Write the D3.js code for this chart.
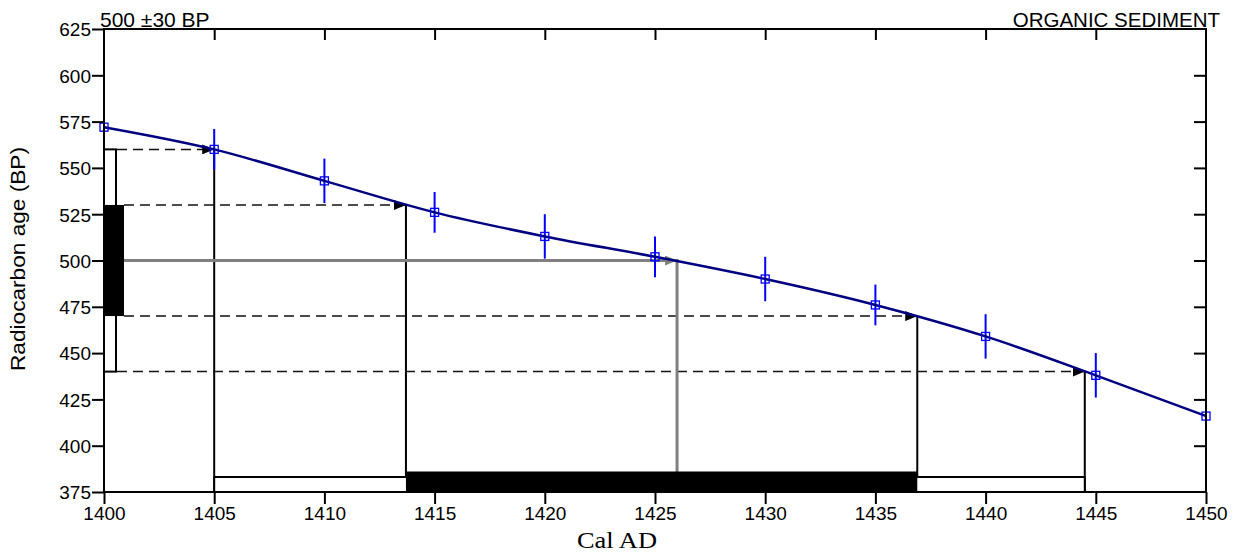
<!DOCTYPE html>
<html><head><meta charset="utf-8">
<script src="https://cdn.jsdelivr.net/npm/d3@7/dist/d3.min.js"></script>
<style>body{margin:0;background:#fff}svg{display:block}</style>
</head><body><svg id="c" width="1241" height="557"></svg>
<script>
// ---- data ----
const years = [1400,1405,1410,1415,1420,1425,1430,1435,1440,1445,1450];
const ages  = [572,560,543,526,513,502,490,476,459,438,416];
const errs  = [11,11,12,11,12,11,12,11,12,12,0];
const xTicks = [1400,1405,1410,1415,1420,1425,1430,1435,1440,1445,1450];
const yTicks = [375,400,425,450,475,500,525,550,575,600,625];
const measured = 500, sigma = 30;
const oneSigmaAges = [470,530];
const twoSigmaAges = [440,560];
const oneSigmaCal = [1413.7,1436.9];
const twoSigmaCal = [1405,1444.5];
const interceptCal = 1426;
const titleLeft = "500 ±30 BP", titleRight = "ORGANIC SEDIMENT";

const svg = d3.select("#c");
const L=104,R=1206,T=29,B=492;
const x = d3.scaleLinear().domain([1400,1450]).range([L,R]);
const y = d3.scaleLinear().domain([375,625]).range([B,T]);
const sans = "Liberation Sans, Arial, sans-serif";

const defs = svg.append("defs");
function marker(id,color){
  defs.append("marker").attr("id",id).attr("viewBox","0 0 12 10").attr("refX",12).attr("refY",5)
    .attr("markerWidth",12).attr("markerHeight",10).attr("markerUnits","userSpaceOnUse").attr("orient","auto")
    .append("path").attr("d","M0,0L12,5L0,10Z").attr("fill",color);
}
marker("ab","#000"); marker("ag","#808080");

// dashed lines + verticals
const cuts = [[twoSigmaAges[1],twoSigmaCal[0],L+13],[oneSigmaAges[1],oneSigmaCal[0],L+20],[oneSigmaAges[0],oneSigmaCal[1],L+20],[twoSigmaAges[0],twoSigmaCal[1],L+13]];
cuts.forEach(([a,c,x0])=>{
  svg.append("line").attr("x1",x0).attr("x2",x(c)).attr("y1",y(a)).attr("y2",y(a))
    .attr("stroke","#111").attr("stroke-width",1.5).attr("stroke-dasharray","10,6").attr("marker-end","url(#ab)");
  svg.append("line").attr("x1",x(c)).attr("x2",x(c)).attr("y1",y(a)).attr("y2",B).attr("stroke","#000").attr("stroke-width",2);
});
svg.append("line").attr("x1",L+20).attr("x2",x(interceptCal)).attr("y1",y(measured)).attr("y2",y(measured))
  .attr("stroke","#808080").attr("stroke-width",3).attr("marker-end","url(#ag)");
svg.append("line").attr("x1",x(interceptCal)).attr("x2",x(interceptCal)).attr("y1",y(measured)-1.5).attr("y2",B)
  .attr("stroke","#808080").attr("stroke-width",3);

// bottom bars
svg.append("rect").attr("x",x(twoSigmaCal[0])).attr("y",B-15).attr("width",x(twoSigmaCal[1])-x(twoSigmaCal[0])).attr("height",15)
  .attr("fill","#fff").attr("stroke","#000").attr("stroke-width",2);
svg.append("rect").attr("x",x(oneSigmaCal[0])).attr("y",B-20.5).attr("width",x(oneSigmaCal[1])-x(oneSigmaCal[0])).attr("height",20.5)
  .attr("fill","#000");
// left bars
svg.append("rect").attr("x",L).attr("y",y(twoSigmaAges[1])).attr("width",12).attr("height",y(twoSigmaAges[0])-y(twoSigmaAges[1]))
  .attr("fill","#fff").attr("stroke","#000").attr("stroke-width",2);
svg.append("rect").attr("x",L).attr("y",y(oneSigmaAges[1])).attr("width",20).attr("height",y(oneSigmaAges[0])-y(oneSigmaAges[1]))
  .attr("fill","#000");

// error bars
const pts = years.map((d,i)=>({yr:d,age:ages[i],e:errs[i]}));
svg.append("g").selectAll("line").data(pts.filter(d=>d.e>0)).join("line")
  .attr("x1",d=>x(d.yr)).attr("x2",d=>x(d.yr)).attr("y1",d=>y(d.age+d.e)).attr("y2",d=>y(d.age-d.e))
  .attr("stroke","#0000ff").attr("stroke-width",2);
// curve
svg.append("path").datum(pts).attr("d",d3.line().x(d=>x(d.yr)).y(d=>y(d.age)).curve(d3.curveMonotoneX))
  .attr("fill","none").attr("stroke","#000080").attr("stroke-width",2.5);
// squares
svg.append("g").selectAll("rect").data(pts).join("rect")
  .attr("x",d=>x(d.yr)-4).attr("y",d=>y(d.age)-4).attr("width",8).attr("height",8)
  .attr("fill","none").attr("stroke","#0000ff").attr("stroke-width",1.3);

// axes
const ax = svg.append("g").attr("font-family",sans);
function styleAxis(g){g.select(".domain").remove();g.selectAll("line").attr("stroke","#000").attr("stroke-width",2);}
ax.append("g").attr("transform",`translate(0,${B})`).call(d3.axisBottom(x).tickValues(xTicks).tickFormat(d3.format("d")).tickSize(12).tickPadding(3))
  .call(styleAxis).selectAll("text").attr("font-size",19).attr("fill","#000");
ax.append("g").attr("transform",`translate(0,${T})`).call(d3.axisBottom(x).tickValues(xTicks.slice(1,-1)).tickFormat("").tickSize(11)).call(styleAxis);
ax.append("g").attr("transform",`translate(${L},0)`).call(d3.axisLeft(y).tickValues(yTicks).tickFormat(d3.format("d")).tickSize(12).tickPadding(1))
  .call(styleAxis).selectAll("text").attr("font-size",19).attr("fill","#000").attr("dy","0.36em");
ax.append("g").attr("transform",`translate(${R},0)`).call(d3.axisLeft(y).tickValues(yTicks.slice(1,-1)).tickFormat("").tickSize(12)).call(styleAxis);
svg.append("rect").attr("x",L).attr("y",T).attr("width",R-L).attr("height",B-T).attr("fill","none").attr("stroke","#000").attr("stroke-width",2);

// titles
svg.append("text").attr("x",100).attr("y",27).attr("font-family",sans).attr("font-size",21).text(titleLeft);
svg.append("text").attr("x",1220).attr("y",27).attr("text-anchor","end").attr("font-family",sans).attr("font-size",20.5).text(titleRight);
svg.append("text").attr("transform","translate(25,259) rotate(-90)").attr("text-anchor","middle").attr("font-family",sans).attr("font-size",20)
  .attr("textLength",224).attr("lengthAdjust","spacingAndGlyphs").text("Radiocarbon age (BP)");
svg.append("text").attr("x",617).attr("y",548).attr("text-anchor","middle").attr("font-family","Liberation Serif, Times New Roman, serif").attr("font-size",23)
  .attr("textLength",80).attr("lengthAdjust","spacingAndGlyphs").text("Cal AD");
</script></body></html>
